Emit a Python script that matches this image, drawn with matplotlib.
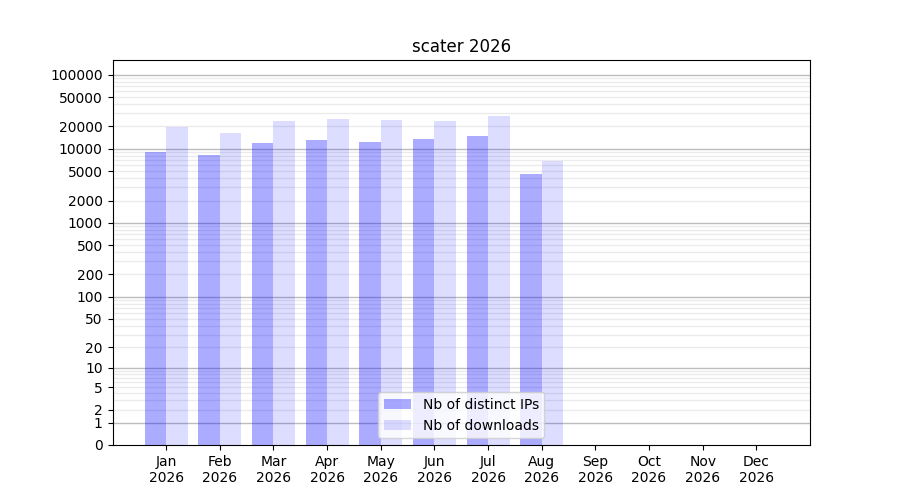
import matplotlib
matplotlib.use("Agg")
import matplotlib.pyplot as plt
import numpy as np

months = ["Jan", "Feb", "Mar", "Apr", "May", "Jun", "Jul", "Aug", "Sep", "Oct", "Nov", "Dec"]
year = "2026"
distinct_ips = [9100, 8300, 12050, 13200, 12400, 13650, 15000, 4590]
downloads = [19800, 16400, 23900, 25400, 24600, 23900, 27900, 6880]
ytick_values = [0, 1, 2, 5, 10, 20, 50, 100, 200, 500, 1000, 2000, 5000, 10000, 20000, 50000, 100000]

def fwd(v):
    return np.log10(np.maximum(np.asarray(v, dtype=float), 0) + 1)

def inv(v):
    return 10 ** np.asarray(v, dtype=float) - 1

fig, ax = plt.subplots(figsize=(9, 5), dpi=100)
ax.set_yscale("function", functions=(fwd, inv))

x = np.arange(len(months))
w = 0.4
ax.bar(x[:len(distinct_ips)], distinct_ips, width=-w, align="edge",
       color=(0, 0, 1, 0.33), label="Nb of distinct IPs", zorder=2)
ax.bar(x[:len(downloads)], downloads, width=w, align="edge",
       color=(0, 0, 1, 0.135), label="Nb of downloads", zorder=2)

# grid lines
for e in range(0, 6):
    base = 10 ** e
    ax.axhline(base, color="#bdbdbd", lw=1, zorder=1)
    if e < 5:
        for m in range(2, 10):
            ax.axhline(m * base, color="#ebebeb", lw=1, zorder=1)
for m in range(2, 10):
    pass

ax.set_ylim(0, 158000)
ax.set_xlim(-1, 12)
ax.set_yticks(ytick_values)
ax.set_yticklabels([str(v) for v in ytick_values])
ax.minorticks_off()
ax.set_xticks(x)
ax.set_xticklabels([f"{m}\n{year}" for m in months])
ax.set_title("scater 2026")
ax.legend(loc="lower center")

fig.savefig("out.png", dpi=100)
